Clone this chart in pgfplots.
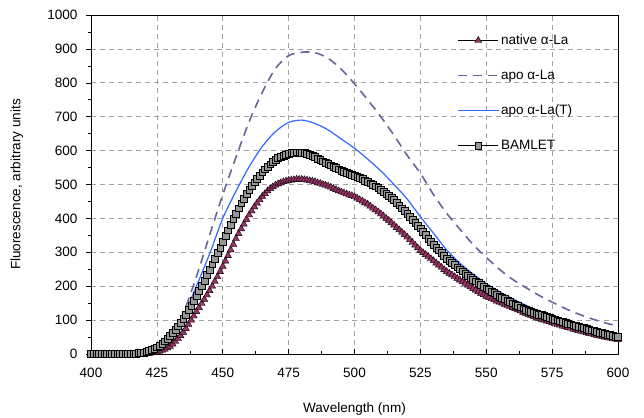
\documentclass[border=0pt]{standalone}
\usepackage{pgfplots}
\usepackage{pgfplotstable}
\pgfplotsset{compat=1.18}
\usepackage{fontspec}
\setmainfont{Liberation Sans}
\definecolor{plum}{HTML}{993366}
\definecolor{sqgray}{HTML}{969696}
\definecolor{apocol}{HTML}{666699}
\definecolor{apotcol}{HTML}{3366FF}
\definecolor{gridgray}{HTML}{8C8C8C}
\newcommand{\chartfont}{\fontsize{13.6}{15}\selectfont}

\pgfplotstableread{
x n b
400 0 0
401 0 0
402 0 0
403 0 0
404 0 0
405 0 0
406 0 0
407 0 0
408 0 0
409 0 0
410 0 0
411 0 0
412 0 1
413 0 1
414 0 1
415 0 1
416 0 2
417 0 2
418 0 3
419 0 4
420 0 5
421 1 7
422 2 9
423 3 12
424 4 16
425 6 20
426 8 25
427 11 31
428 14 38
429 18 46
430 22 54
431 29 63
432 37 72
433 45 82
434 54 93
435 64 105
436 75 117
437 87 130
438 100 143
439 112 157
440 125 171
441 137 186
442 149 201
443 161 217
444 174 233
445 187 249
446 200 265
447 214 281
448 228 298
449 243 314
450 258 331
451 274 348
452 290 365
453 307 382
454 323 399
455 340 415
456 355 430
457 369 445
458 383 459
459 397 472
460 410 484
461 422 496
462 434 507
463 445 517
464 455 527
465 465 536
466 473 545
467 481 553
468 488 560
469 493 567
470 498 573
471 502 578
472 505 582
473 508 586
474 510 589
475 512 591
476 513 593
477 514 594
478 515 595
479 515 595
480 515 594
481 514 593
482 513 591
483 511 588
484 510 585
485 508 581
486 505 577
487 503 573
488 500 569
489 498 565
490 495 561
491 492 557
492 488 553
493 485 549
494 481 545
495 478 541
496 475 538
497 472 535
498 469 532
499 467 530
500 464 527
501 460 524
502 455 520
503 451 516
504 446 512
505 442 508
506 436 504
507 430 499
508 425 495
509 419 490
510 413 485
511 407 479
512 400 473
513 394 467
514 387 461
515 380 455
516 373 447
517 366 439
518 359 430
519 352 422
520 345 413
521 337 405
522 329 396
523 321 388
524 313 379
525 305 371
526 299 361
527 293 351
528 287 341
529 281 331
530 275 322
531 268 314
532 262 306
533 256 298
534 249 290
535 243 282
536 238 276
537 233 269
538 228 263
539 223 256
540 218 250
541 213 244
542 208 238
543 203 232
544 198 226
545 193 220
546 188 215
547 184 210
548 179 204
549 175 199
550 170 194
551 167 189
552 163 184
553 160 180
554 156 175
555 153 170
556 150 166
557 146 162
558 143 158
559 140 154
560 137 150
561 134 146
562 130 142
563 127 138
564 123 135
565 120 131
566 117 128
567 114 125
568 111 122
569 108 120
570 105 117
571 102 115
572 100 112
573 97 110
574 95 107
575 92 105
576 90 102
577 87 100
578 85 97
579 82 95
580 80 92
581 78 90
582 76 88
583 73 85
584 71 83
585 69 81
586 67 79
587 65 77
588 63 74
589 61 72
590 59 70
591 57 68
592 55 66
593 53 64
594 52 62
595 50 60
596 48 58
597 47 56
598 45 54
599 44 52
600 42 50
}\markdata

\pgfplotstableread{
x apo apot
400 0 0
405 0 0
410 0 0
415 1 1
420 3 3
425 12 12
430 48 41
435 120 110
440 228 200
445 350 295
450 470 400
455 580 480
460 685 552
465 772 612
470 842 656
475 880 683
480 890 690
485 889 680
490 872 661
495 840 634
500 797 607
505 750 575
510 700 540
515 645 500
520 586 457
525 533 405
530 470 356
535 415 307
540 368 268
545 323 236
550 285 208
555 250 184
560 220 163
565 196 144
570 173 126
575 153 110
580 134 96
585 118 84
590 104 73
595 92 64
600 82 56
}\linedata

\begin{document}
\begin{tikzpicture}
\begin{axis}[
  at={(0,0)}, anchor=origin,
  scale only axis,
  width=527bp, height=339bp,
  xmin=400, xmax=600, ymin=0, ymax=1000,
  xtick={400,425,...,600},
  ytick={0,100,...,1000},
  minor x tick num=1,
  minor y tick num=1,
  x tick style={black, line width=0.5bp},
  y tick style={black, line width=0.5bp},
  xtick align=inside,
  ytick align=outside,
  major tick length=5bp,
  minor tick length=3bp,
  tick pos=left,
  axis line style={black, line width=0.8bp},
  grid=major,
  major grid style={gridgray!80, line width=0.6bp, dash pattern=on 5bp off 4bp},
  tick label style={font=\chartfont},
  label style={font=\chartfont},
  /pgf/number format/assume math mode=true,
  /pgf/number format/1000 sep={},
  xticklabel style={yshift=-11bp},
  yticklabel style={xshift=-5bp},
  xlabel={Wavelength (nm)},
  ylabel={Fluorescence, arbitrary units},
  xlabel style={at={(axis description cs:0.5,-0.174)}, anchor=base, font=\chartfont},
  ylabel style={at={(axis description cs:-0.1338,0.5)}, anchor=base, rotate=0, font=\chartfont},
  legend cell align=left,
  legend style={draw=none, fill=none, at={(axis description cs:0.695,0.948)}, anchor=north west,
    font=\chartfont, row sep=20bp, inner sep=0pt,
    /tikz/every even column/.append style={column sep=1bp}},
  legend image code/.code={\draw[mark repeat=2,mark phase=2] plot coordinates {(0bp,0bp) (20bp,0bp) (40bp,0bp)};},
]
\addplot[black, line width=0.4bp, mark=triangle*, mark size=4bp,
  mark options={fill=plum, draw=black, line width=0.4bp, solid}]
  table[x=x, y=n] {\markdata};
\addlegendentry{native α-La}
\addplot[apocol, line width=1.6bp, dash pattern=on 9bp off 6bp, smooth, no marks]
  table[x=x, y=apo] {\linedata};
\addlegendentry{apo α-La}
\addplot[apotcol, line width=1.2bp, smooth, no marks]
  table[x=x, y=apot] {\linedata};
\addlegendentry{apo α-La(T)}
\addplot[black, line width=0.4bp, mark=square*, mark size=3.4bp,
  mark options={fill=sqgray, draw=black, line width=0.4bp, solid}]
  table[x=x, y=b] {\markdata};
\addlegendentry{BAMLET}
\end{axis}
\pgfresetboundingbox
\path[use as bounding box] (-91bp,-64bp) rectangle (553bp,354bp);
\end{tikzpicture}
\end{document}
